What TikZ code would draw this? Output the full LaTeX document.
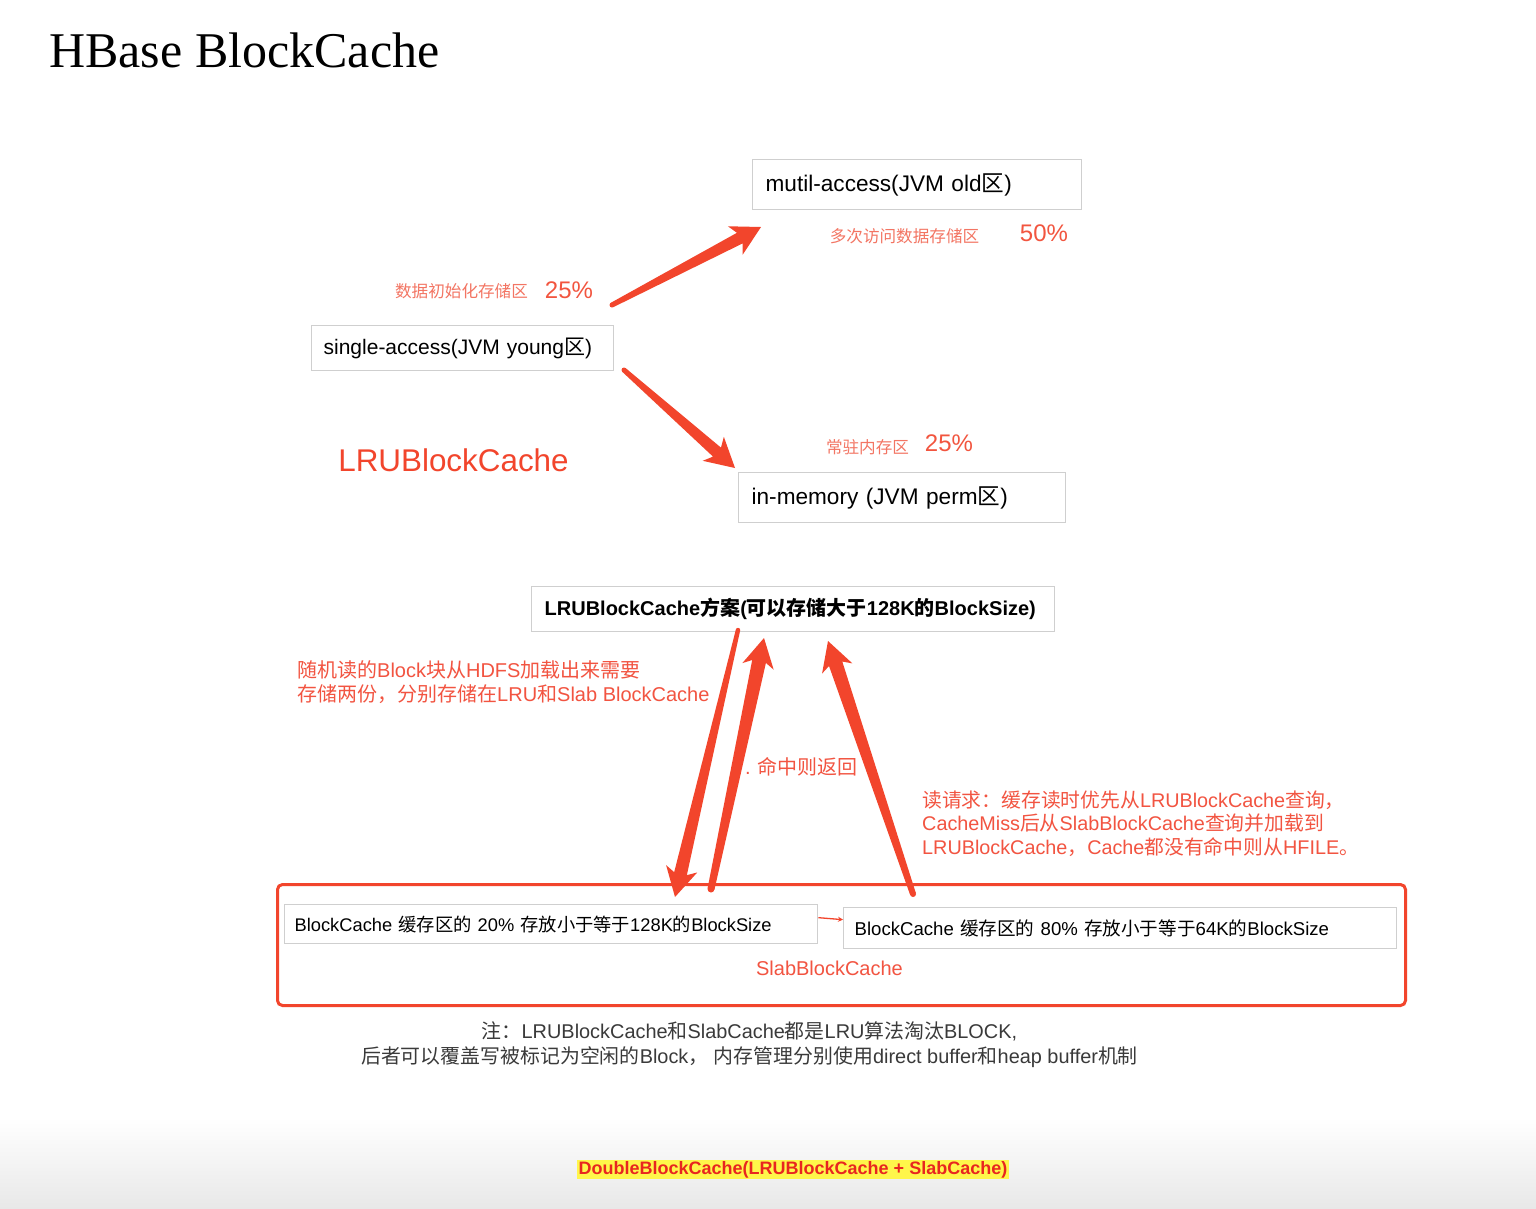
\documentclass[tikz,border=0pt]{standalone}
\usepackage{fontspec}
\usepackage{tikz}
\usetikzlibrary{calc,arrows.meta}
\newfontfamily\lat{Liberation Sans}
\newfontfamily\serif{Liberation Serif}
\newfontfamily\cjk{Noto Sans CJK SC}
\newcommand\zh[1]{{\cjk #1}}
\definecolor{hbred}{HTML}{F2452C}
\definecolor{hbnote}{HTML}{F25441}
\definecolor{hblabel}{HTML}{F37563}
\definecolor{hbpct}{HTML}{F2553F}
\definecolor{hbgrey}{HTML}{CFCFCF}
\definecolor{hbdark}{HTML}{3A3A3A}
\definecolor{hbyellow}{HTML}{FFF64A}
\definecolor{hbbottom}{HTML}{E8261F}
\newcommand\taparrow[4]{%
  \coordinate (#1n) at ($(#2)!24pt!(#1)$);
  \coordinate (#1b) at ($(#2)!29pt!(#1)$);
  \fill[hbred] ($(#1)!#3!90:(#2)$) -- ($(#1n)!#4!90:(#2)$) -- ($(#1b)!16pt!90:(#2)$) -- (#2)
    -- ($(#1b)!16pt!-90:(#2)$) -- ($(#1n)!#4!-90:(#2)$) -- ($(#1)!#3!-90:(#2)$) -- cycle;
  \fill[hbred] (#1) circle[radius=#3]}

\begin{document}
\begin{tikzpicture}[x=1pt,y=-1pt,
  box/.style={draw=hbgrey,line width=1.3pt,fill=white,anchor=north west,inner xsep=13pt,inner ysep=0pt,align=left,
    font=\lat\fontsize{22.6}{27}\selectfont},
  lbl/.style={inner sep=0pt,font=\lat\fontsize{16.6}{20}\selectfont,text=hblabel},
  pct/.style={inner sep=0pt,font=\lat\fontsize{24}{28}\selectfont,text=hbpct},
  note/.style={inner sep=0pt,align=left,font=\lat\fontsize{20}{23.7}\selectfont,text=hbnote}]
  \fill[white] (0,0) rectangle (1536,1208);
  \shade[top color=white,bottom color=black!9] (0,1118) rectangle (1536,1208);
  \useasboundingbox (0,0) rectangle (1536,1208);

  \node[anchor=base west,inner sep=0pt,font=\serif\fontsize{50}{58}\selectfont] (title) at (49,67) {HBase BlockCache};

  \node[box,text width=303pt,minimum height=50pt] (old) at (752,159) {mutil-access(JVM old\zh{区})};
  \node[box,text width=278pt,minimum height=45pt,inner xsep=12pt,font=\lat\fontsize{21}{25}\selectfont] (young) at (311,325)
    {single-access(JVM young\zh{区})};
  \node[box,text width=301pt,minimum height=50pt] (perm) at (738,472) {in-memory (JVM perm\zh{区})};

  \node[lbl] (oldlbl) at (904.5,236) {\zh{多次访问数据存储区}};
  \node[pct] (oldpct) at (1044,233) {50\%};
  \node[lbl] (younglbl) at (461.5,291) {\zh{数据初始化存储区}};
  \node[pct] (youngpct) at (569,290) {25\%};
  \node[lbl] (permlbl) at (867.5,447) {\zh{常驻内存区}};
  \node[pct] (permpct) at (949,443) {25\%};
  \node[inner sep=0pt,font=\lat\fontsize{31.4}{36}\selectfont,text=hbred] (lrutitle) at (453.5,460) {LRUBlockCache};

  \coordinate (oldfrom) at (612,305);
  \coordinate (oldto) at (761,227);
  \coordinate (permfrom) at (624,370);
  \coordinate (permto) at (735,468);
  \taparrow{oldfrom}{oldto}{2.5pt}{6pt};
  \taparrow{permfrom}{permto}{2.5pt}{6pt};

  \node[box,text width=497pt,minimum height=45pt,font=\lat\bfseries\fontsize{20}{24}\selectfont] (lru) at (531,586)
    {LRUBlockCache\zh{方案}(\zh{可以存储大于}128K\zh{的}BlockSize)};

  \node[note,anchor=west] (twice) at (297,682)
    {\zh{随机读的}Block\zh{块从}HDFS\zh{加载出来需要}\\\zh{存储两份，分别存储在}LRU\zh{和}Slab BlockCache};
  \node[note,anchor=west] (hit) at (745,767) {.\hspace{7pt}\zh{命中则返回}};
  \node[note,anchor=west,font=\lat\fontsize{19.8}{23.5}\selectfont] (read) at (922,823.5)
    {\zh{读请求：缓存读时优先从}LRUBlockCache\zh{查询，}\\CacheMiss\zh{后从}SlabBlockCache\zh{查询并加载到}\\LRUBlockCache\zh{，}Cache\zh{都没有命中则从}HFILE\zh{。}};

  \node[draw=hbred,line width=3pt,rounded corners=5pt,anchor=north west,minimum width=1128pt,minimum height=121pt] (slab) at (276,883) {};
  \node[box,text width=513pt,minimum height=39pt,inner xsep=10pt,font=\lat\fontsize{18.3}{22}\selectfont] (small) at (284,904)
    {BlockCache \zh{缓存区的} 20\% \zh{存放小于等于}128K\zh{的}BlockSize};
  \node[box,text width=531pt,minimum height=41pt,inner xsep=11pt,font=\lat\fontsize{18.6}{22}\selectfont] (large) at (843,907)
    {BlockCache \zh{缓存区的} 80\% \zh{存放小于等于}64K\zh{的}BlockSize};
  \node[note] (slablbl) at (829.5,968) {SlabBlockCache};
  \draw[hbred,line width=1.3pt,-{Stealth[length=5pt,width=5pt]}] ([yshift=6.5pt]small.east) -- ([yshift=8.5pt]large.west);

  \coordinate (loadfrom) at (738,630);
  \coordinate (loadto) at (675,897);
  \coordinate (hitfrom) at (711,889);
  \coordinate (hitto) at (764,638);
  \coordinate (missfrom) at (913,894);
  \coordinate (missto) at (828,641);
  \taparrow{loadfrom}{loadto}{2.2pt}{6.5pt};
  \taparrow{hitfrom}{hitto}{3.5pt}{7pt};
  \taparrow{missfrom}{missto}{3pt}{7pt};

  \node[inner sep=0pt,align=center,font=\lat\fontsize{19.9}{25}\selectfont,text=hbdark] (remark) at (749.5,1044.5)
    {\zh{注：}LRUBlockCache\zh{和}SlabCache\zh{都是}LRU\zh{算法淘汰}BLOCK,\\\zh{后者可以覆盖写被标记为空闲的}Block\zh{，} \zh{内存管理分别使用}direct buffer\zh{和}heap buffer\zh{机制}};

  \node[fill=hbyellow,inner xsep=2pt,inner ysep=1.5pt,font=\lat\bfseries\fontsize{18}{21}\selectfont,text=hbbottom] (double) at (793,1169.5)
    {DoubleBlockCache(LRUBlockCache + SlabCache)};
\end{tikzpicture}
\end{document}
